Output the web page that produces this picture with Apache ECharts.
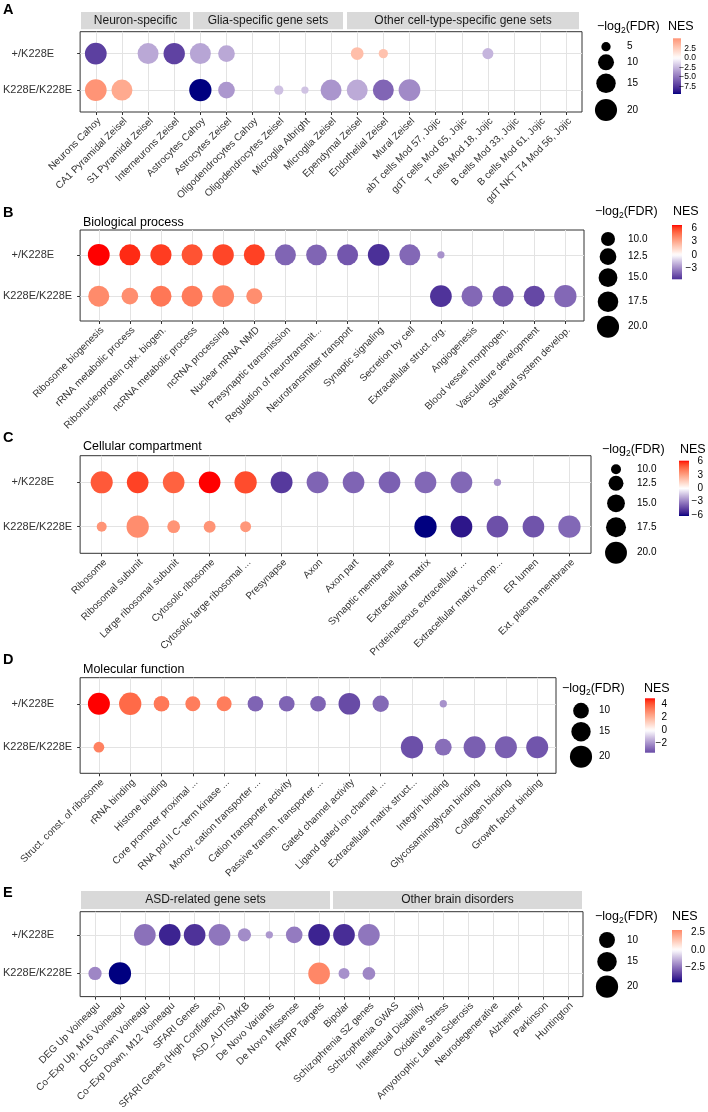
<!DOCTYPE html>
<html><head><meta charset="utf-8">
<script src="https://cdn.jsdelivr.net/npm/echarts@6/dist/echarts.min.js"></script>
<style>html,body{margin:0;padding:0;background:#fff}#c{width:708px;height:1112px}</style>
</head><body><div id="c"></div>
<script>
// ---------------- DATA ----------------
const rowLabels = ['K228E/K228E', '+/K228E'];

// Panel A
const aCats = ['Neurons Cahoy','CA1 Pyramidal Zeisel','S1 Pyramidal Zeisel','Interneurons Zeisel','Astrocytes Cahoy','Astrocytes Zeisel','Oligodendrocytes Cahoy','Oligodendrocytes Zeisel','Microglia Albright','Microglia Zeisel','Ependymal Zeisel','Endothelial Zeisel','Mural Zeisel','abT cells Mod 57, Jojic','gdT cells Mod 65, Jojic','T cells Mod 18, Jojic','B cells Mod 33, Jojic','B cells Mod 61, Jojic','gdT NKT T4 Mod 56, Jojic'];
const aHetNES  = [-7.1, null, -3.1, -7.0, -3.2, -3.1, null, null, null, null, 3.2, 3.0, null, null, null, -2.6, null, null, null];
const aHetSize = [19.2, null, 17.8, 18.5, 17.8, 10.9, null, null, null, null, 6.8, 5.0, null, null, null, 5.7, null, null, null];
const aHomNES  = [5.2, 4.2, null, null, -9.5, -3.7, null, -2.2, -2.1, -3.8, -3.0, -5.6, -4.2, null, null, null, null, null, null];
const aHomSize = [19.2, 17.8, null, null, 20.4, 10.9, null, 5.0, 4.72, 17.8, 17.8, 17.8, 19.2, null, null, null, null, null, null];
const aStrips = ['Neuron-specific', 'Glia-specific gene sets', 'Other cell-type-specific gene sets'];
const aSizeBreaks = [5, 10, 15, 20];
const aSizeLabels = ['5', '10', '15', '20'];
const aNesBreaks = [2.5, 0, -2.5, -5, -7.5];
const aNesLabels = ['2.5', '0.0', '\u22122.5', '\u22125.0', '\u22127.5'];

// Panel B
const bCats = ['Ribosome biogenesis','rRNA metabolic process','Ribonucleoprotein cplx. biogen.','ncRNA metabolic process','ncRNA processing','Nuclear mRNA NMD','Presynaptic transmission','Regulation of neurotransmit...','Neurotransmitter transport','Synaptic signaling','Secretion by cell','Extracellular struct. org.','Angiogenesis','Blood vessel morphogen.','Vasculature development','Skeletal system develop.'];
const bHetNES  = [6.75, 6.4, 6.1, 5.6, 5.9, 6.0, -4.0, -4.0, -4.4, -5.5, -3.9, -2.8, null, null, null, null];
const bHetSize = [19.5, 18.2, 18.4, 18.2, 18.6, 18.2, 18.2, 17.8, 18.2, 19.3, 18.2, 7.43, null, null, null, null];
const bHomNES  = [4.0, 3.9, 4.6, 4.5, 4.2, 3.9, null, null, null, null, null, -5.4, -3.9, -4.4, -4.8, -3.9];
const bHomSize = [18.2, 12.5, 18.2, 18.2, 19.3, 11.8, null, null, null, null, null, 19.3, 18.2, 18.2, 18.2, 20.3];
const bSizeBreaks = [10, 12.5, 15, 17.5, 20];
const bSizeLabels = ['10.0', '12.5', '15.0', '17.5', '20.0'];
const bNesBreaks = [6, 3, 0, -3];
const bNesLabels = ['6', '3', '0', '\u22123'];

// Panel C
const cCats = ['Ribosome','Ribosomal subunit','Large ribosomal subunit','Cytosolic ribosome','Cytosolic large ribosomal ...','Presynapse','Axon','Axon part','Synaptic membrane','Extracellular matrix','Proteinaceous extracellular ...','Extracellular matrix comp...','ER lumen','Ext. plasma membrane'];
const cHetNES  = [5.0, 5.5, 4.8, 6.2, 5.3, -4.8, -3.7, -3.7, -3.8, -3.6, -3.6, -2.6, null, null];
const cHetSize = [20.3, 19.7, 19.7, 19.7, 20.6, 20.0, 20.0, 19.7, 19.7, 19.7, 19.7, 9.65, null, null];
const cHomNES  = [3.4, 3.6, 3.4, 3.4, 3.3, null, null, null, null, -6.2, -5.7, -4.2, -4.1, -3.6];
const cHomSize = [10.0, 20.6, 11.1, 10.7, 10.3, null, null, null, null, 20.6, 19.7, 19.7, 19.7, 20.6];
const cSizeBreaks = [10, 12.5, 15, 17.5, 20];
const cSizeLabels = ['10.0', '12.5', '15.0', '17.5', '20.0'];
const cNesBreaks = [6, 3, 0, -3, -6];
const cNesLabels = ['6', '3', '0', '\u22123', '\u22126'];

// Panel D
const dCats = ['Struct. const. of ribosome','rRNA binding','Histone binding','Core promoter proximal ...','RNA pol.II C\u2212term kinase ...','Monov. cation transporter ...','Cation transporter activity','Passive transm. transporter ...','Gated channel activity','Ligand gated ion channel ...','Extracellular matrix struct...','Integrin binding','Glycosaminoglycan binding','Collagen binding','Growth factor binding'];
const dHetNES  = [4.86, 3.6, 3.3, 3.2, 3.2, -2.9, -2.9, -2.9, -3.4, -2.8, null, -2.0, null, null, null];
const dHetSize = [19.7, 20.3, 10.0, 9.3, 9.3, 10.0, 10.0, 10.0, 19.1, 10.7, null, 5.3, null, null, null];
const dHomNES  = [3.1, null, null, null, null, null, null, null, null, null, -3.3, -2.7, -3.0, -3.0, -3.2];
const dHomSize = [6.1, null, null, null, null, null, null, null, null, null, 20.3, 11.2, 19.7, 19.7, 19.7];
const dSizeBreaks = [10, 15, 20];
const dSizeLabels = ['10', '15', '20'];
const dNesBreaks = [4, 2, 0, -2];
const dNesLabels = ['4', '2', '0', '\u22122'];

// Panel E
const eCats = ['DEG Up Voineagu','Co\u2212Exp Up, M16 Voineagu','DEG Down Voineagu','Co\u2212Exp Down, M12 Voineagu','SFARI Genes','SFARI Genes (High Confidence)','ASD_AUTISMKB','De Novo Variants','De Novo Missense','FMRP Targets','Bipolar','Schizophrenia SZ genes','Schizophrenia GWAS','Intellectual Disability','Oxidative Stress','Amyotrophic Lateral Sclerosis','Neurodegenerative','Alzheimer','Parkinson','Huntington'];
const eHetNES  = [null, null, -2.5, -4.0, -3.7, -2.4, -2.0, -1.8, -2.3, -4.0, -3.8, -2.4, null, null, null, null, null, null, null, null];
const eHetSize = [null, null, 18.9, 18.9, 18.9, 18.9, 7.4, 5.0, 10.9, 18.9, 18.9, 18.9, null, null, null, null, null, null, null, null];
const eHomNES  = [-2.1, -4.6, null, null, null, null, null, null, null, 2.8, -1.9, -2.1, null, null, null, null, null, null, null, null];
const eHomSize = [7.4, 20.1, null, null, null, null, null, null, null, 18.9, 5.9, 7.0, null, null, null, null, null, null, null, null];
const eStrips = ['ASD-related gene sets', 'Other brain disorders'];
const eSizeBreaks = [10, 15, 20];
const eSizeLabels = ['10', '15', '20'];
const eNesBreaks = [2.5, 0, -2.5];
const eNesLabels = ['2.5', '0.0', '\u22122.5'];

// ---------------- LAYOUT ----------------
const FONT = "'Liberation Sans', Arial, Helvetica, sans-serif";
const panels = [
  { letter:'A', letterY:10, title:null, cats:aCats, het:[aHetNES,aHetSize], hom:[aHomNES,aHomSize],
    grid:{left:79, top:31.7, width:503, height:80.3},
    strips:{names:aStrips, xs:[[81,190],[193,343],[347,579]], y:12, h:17.3},
    sizeBreaks:aSizeBreaks, sizeLabels:aSizeLabels, nesBreaks:aNesBreaks, nesLabels:aNesLabels,
    lg:{titleX:597, titleY:27, nesX:668, cx:606, lx:627, cy:[46.7,62.3,83.3,110], bar:[673,38.3,8,55.7], blx:696, bfs:8.5} },
  { letter:'B', letterY:213, title:'Biological process', titleY:223, cats:bCats, het:[bHetNES,bHetSize], hom:[bHomNES,bHomSize],
    grid:{left:80, top:230, width:504, height:91},
    sizeBreaks:bSizeBreaks, sizeLabels:bSizeLabels, nesBreaks:bNesBreaks, nesLabels:bNesLabels,
    lg:{titleX:595, titleY:212, nesX:673, cx:608, lx:628, cy:[239,256.7,277.7,301.7,326.7], bar:[672,225,10,54.3], blx:697, bfs:10} },
  { letter:'C', letterY:438, title:'Cellular compartment', titleY:447, cats:cCats, het:[cHetNES,cHetSize], hom:[cHomNES,cHomSize],
    grid:{left:80, top:455.7, width:511, height:97.6},
    sizeBreaks:cSizeBreaks, sizeLabels:cSizeLabels, nesBreaks:cNesBreaks, nesLabels:cNesLabels,
    lg:{titleX:602, titleY:450, nesX:680, cx:616, lx:637, cy:[469.3,483.3,503.3,527.3,552.7], bar:[679,460.7,10,55.3], blx:703, bfs:10} },
  { letter:'D', letterY:660, title:'Molecular function', titleY:670, cats:dCats, het:[dHetNES,dHetSize], hom:[dHomNES,dHomSize],
    grid:{left:79, top:677.7, width:477, height:95.6},
    sizeBreaks:dSizeBreaks, sizeLabels:dSizeLabels, nesBreaks:dNesBreaks, nesLabels:dNesLabels,
    lg:{titleX:562, titleY:689, nesX:644, cx:581, lx:599, cy:[710.7,731.7,756.7], bar:[645,698.3,10,54.4], blx:667, bfs:10} },
  { letter:'E', letterY:893, title:null, cats:eCats, het:[eHetNES,eHetSize], hom:[eHomNES,eHomSize],
    grid:{left:79, top:911.7, width:504, height:87.6},
    strips:{names:eStrips, xs:[[81,330],[333,582]], y:891, h:18},
    sizeBreaks:eSizeBreaks, sizeLabels:eSizeLabels, nesBreaks:eNesBreaks, nesLabels:eNesLabels,
    lg:{titleX:595, titleY:917, nesX:672, cx:607, lx:627, cy:[940,961.7,986.7], bar:[672,930,10,52.3], blx:705, bfs:10} }
];

// ---------------- COLOUR (ggplot gradient2, Lab interpolation) ----------------
function hexToRgb(h){h=h.replace('#','');return [parseInt(h.slice(0,2),16),parseInt(h.slice(2,4),16),parseInt(h.slice(4,6),16)];}
function toLin(c){c/=255;return c<=0.04045?c/12.92:Math.pow((c+0.055)/1.055,2.4);}
function toSrgb(c){c=Math.max(0,Math.min(1,c));c=c<=0.0031308?12.92*c:1.055*Math.pow(c,1/2.4)-0.055;return Math.round(Math.max(0,Math.min(1,c))*255);}
const Xn=0.95047,Yn=1,Zn=1.08883;
function rgbToLab(rgb){const r=toLin(rgb[0]),g=toLin(rgb[1]),b=toLin(rgb[2]);
  const X=0.4124564*r+0.3575761*g+0.1804375*b,Y=0.2126729*r+0.7151522*g+0.0721750*b,Z=0.0193339*r+0.1191920*g+0.9503041*b;
  const f=t=>t>216/24389?Math.cbrt(t):(24389/27*t+16)/116;
  const fx=f(X/Xn),fy=f(Y/Yn),fz=f(Z/Zn);return [116*fy-16,500*(fx-fy),200*(fy-fz)];}
function labToRgb(lab){const fy=(lab[0]+16)/116,fx=fy+lab[1]/500,fz=fy-lab[2]/200;
  const fi=t=>t*t*t>216/24389?t*t*t:(116*t-16)/(24389/27);
  const X=Xn*fi(fx),Y=Yn*fi(fy),Z=Zn*fi(fz);
  const r=3.2404542*X-1.5371385*Y-0.4985314*Z,g=-0.9692660*X+1.8760108*Y+0.0415560*Z,b=0.0556434*X-0.2040259*Y+1.0572252*Z;
  return 'rgb('+toSrgb(r)+','+toSrgb(g)+','+toSrgb(b)+')';}
const LOW=rgbToLab(hexToRgb('#000080')), MID=rgbToLab(hexToRgb('#FFFFFF')), HIGH=rgbToLab(hexToRgb('#FF0000'));
function mix(a,b,f){return [a[0]+(b[0]-a[0])*f,a[1]+(b[1]-a[1])*f,a[2]+(b[2]-a[2])*f];}
function nesColor(v,m){let t=0.5+v/(2*m);t=Math.max(0,Math.min(1,t));
  return t<0.5?labToRgb(mix(LOW,MID,t/0.5)):labToRgb(mix(MID,HIGH,(t-0.5)/0.5));}
const R0=7.3, R1=22.3;
function sizePx(v,lo,hi){return R0+(R1-R0)*Math.sqrt(Math.max(0,(v-lo)/(hi-lo)));}

// ---------------- BUILD ----------------
const option={animation:false,backgroundColor:'#fff',grid:[],xAxis:[],yAxis:[],series:[],graphic:[]};
const G=option.graphic;
function txt(x,y,text,size,opts){opts=opts||{};
  G.push({type:'text',x:x,y:y,silent:true,style:{text:text,fontSize:size,fontFamily:FONT,fontWeight:opts.bold?'bold':'normal',
    fill:opts.fill||'#000',align:opts.align||'left',textAlign:opts.align||'left',verticalAlign:'middle',textVerticalAlign:'middle'}});}

panels.forEach((p,k)=>{
  const n=p.cats.length, idx=p.cats.map((_,i)=>i);
  option.grid.push({left:p.grid.left,top:p.grid.top,width:p.grid.width,height:p.grid.height,show:true,borderColor:'#333',borderWidth:1,backgroundColor:'transparent'});
  option.xAxis.push({type:'value',gridIndex:k,min:-0.6,max:n-0.4,position:'bottom',
    axisLine:{show:false,onZero:false},
    axisTick:{show:true,customValues:idx,length:3,lineStyle:{color:'#333',width:1}},
    axisLabel:{customValues:idx,rotate:45,align:'right',verticalAlign:'top',margin:4,fontSize:10,fontFamily:FONT,color:'#333',
      formatter:v=>{const i=Math.round(v);return (Math.abs(v-i)<1e-6&&p.cats[i]!==undefined)?p.cats[i]:'';}},
    splitLine:{show:true,lineStyle:{color:'#E3E3E3',width:1}}});
  option.yAxis.push({type:'value',gridIndex:k,min:-0.6,max:1.6,position:'left',
    axisLine:{show:false,onZero:false},
    axisTick:{show:true,customValues:[0,1],length:3,lineStyle:{color:'#333',width:1}},
    axisLabel:{customValues:[0,1],margin:8,fontSize:11,fontFamily:FONT,color:'#333',
      formatter:v=>{if(Math.abs(v-1)<1e-6)return '{h|'+rowLabels[1]+'}';if(Math.abs(v)<1e-6)return rowLabels[0];return '';},
      rich:{h:{padding:[0,18,0,0],fontSize:11,fontFamily:FONT,color:'#333'}}},
    splitLine:{show:true,lineStyle:{color:'#E3E3E3',width:1}}});

  const allN=[],allS=[];
  [p.hom,p.het].forEach(arr=>{arr[0].forEach((v,i)=>{if(v!=null){allN.push(v);allS.push(arr[1][i]);}});});
  const nMin=Math.min(...allN),nMax=Math.max(...allN),mAbs=Math.max(Math.abs(nMin),Math.abs(nMax));
  const sLo=Math.min(...allS),sHi=Math.max(...allS);
  const data=[];
  [[p.het,1],[p.hom,0]].forEach(([arr,row])=>{arr[0].forEach((v,i)=>{if(v!=null)data.push({value:[i,row,arr[1][i],v],itemStyle:{color:nesColor(v,mAbs)}});});});
  option.series.push({type:'scatter',xAxisIndex:k,yAxisIndex:k,silent:true,data:data,
    symbol:'circle',symbolSize:val=>sizePx(val[2],sLo,sHi),itemStyle:{opacity:1,borderWidth:0}});

  txt(3,p.letterY,p.letter,14.5,{bold:true});
  if(p.title)txt(83,p.titleY,p.title,12.5);
  if(p.strips){p.strips.names.forEach((nm,j)=>{const xs=p.strips.xs[j];
    G.push({type:'rect',silent:true,shape:{x:xs[0],y:p.strips.y,width:xs[1]-xs[0],height:p.strips.h},style:{fill:'#D9D9D9'}});
    txt((xs[0]+xs[1])/2,p.strips.y+p.strips.h/2,nm,12,{align:'center',fill:'#1A1A1A'});});}
  const lg=p.lg;
  G.push({type:'text',x:lg.titleX,y:lg.titleY,silent:true,style:{text:'{a|\u2212log}{s|2}{a|(FDR)}',verticalAlign:'middle',textVerticalAlign:'middle',
    rich:{a:{fontSize:12.5,fontFamily:FONT,fill:'#000',lineHeight:16,verticalAlign:'middle'},s:{fontSize:8.5,fontFamily:FONT,fill:'#000',lineHeight:9,verticalAlign:'bottom'}}}});
  p.sizeBreaks.forEach((b,j)=>{
    G.push({type:'circle',silent:true,shape:{cx:lg.cx,cy:lg.cy[j],r:sizePx(b,sLo,sHi)/2},style:{fill:'#000'}});
    txt(lg.lx,lg.cy[j],p.sizeLabels[j],10);});
  txt(lg.nesX,lg.titleY,'NES',12.5);
  const [bx,by,bw,bh]=lg.bar, stops=[];
  for(let s=0;s<=30;s++){const v=nMax-(nMax-nMin)*s/30;stops.push({offset:s/30,color:nesColor(v,mAbs)});}
  G.push({type:'rect',silent:true,shape:{x:bx,y:by,width:bw,height:bh},style:{fill:new echarts.graphic.LinearGradient(0,0,0,1,stops)}});
  p.nesBreaks.forEach((b,j)=>{const yy=by+bh*(nMax-b)/(nMax-nMin);txt(lg.blx,yy,p.nesLabels[j],lg.bfs,{align:'right'});});
});

const chart=echarts.init(document.getElementById('c'),null,{renderer:'canvas',width:708,height:1112});
chart.setOption(option);
</script></body></html>
